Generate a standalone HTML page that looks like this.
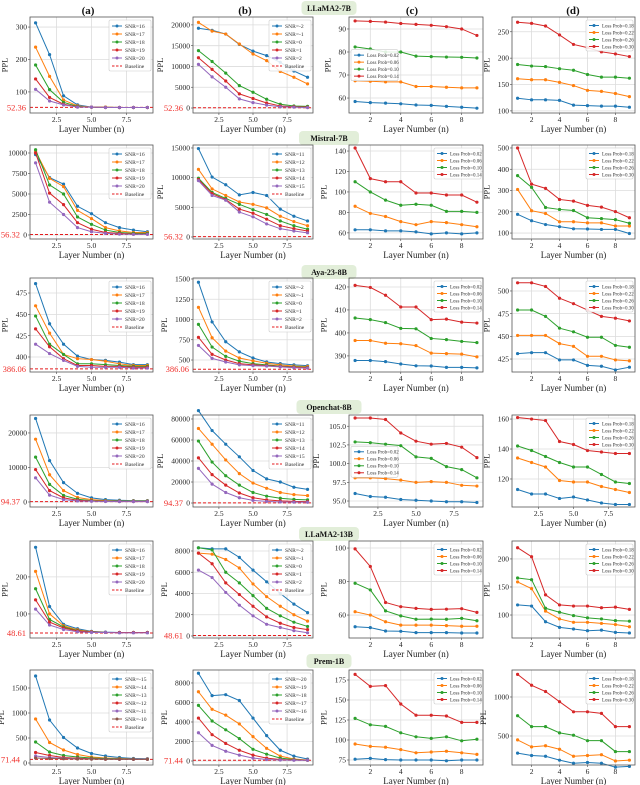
<!DOCTYPE html>
<html><head><meta charset="utf-8">
<style>
html,body{margin:0;padding:0;background:#fff;}
svg{display:block;font-family:"Liberation Serif",serif;}
</style></head>
<body>
<svg id="fig" width="640" height="785" viewBox="0 0 640 785" xmlns="http://www.w3.org/2000/svg"></svg>
<script>
// ===== DATA =====
const layers = [1,2,3,4,5,6,7,8,9];
const snrA1 = ["SNR=16","SNR=17","SNR=18","SNR=19","SNR=20"];
const snrB1 = ["SNR=-2","SNR=-1","SNR=0","SNR=1","SNR=2"];
const snrB2 = ["SNR=11","SNR=12","SNR=13","SNR=14","SNR=15"];
const snrA6 = ["SNR=-15","SNR=-14","SNR=-13","SNR=-12","SNR=-11","SNR=-10"];
const snrB6 = ["SNR=-20","SNR=-19","SNR=-18","SNR=-17","SNR=-16"];
const lossC = ["Loss Prob=0.02","Loss Prob=0.06","Loss Prob=0.10","Loss Prob=0.14"];
const lossD = ["Loss Prob=0.18","Loss Prob=0.22","Loss Prob=0.26","Loss Prob=0.30"];
const baselines = [52.36, 56.32, 386.06, 94.37, 48.61, 71.44];
const baselineText = ["52.36","56.32","386.06","94.37","48.61","71.44"];
const modelNames = ["LLaMA2-7B","Mistral-7B","Aya-23-8B","Openchat-8B","LLaMA2-13B","Prem-1B"];

// Row 1 LLaMA2-7B
const r1a = [[313,215,88,60,53,53,52,52,52],[238,148,75,57,53,53,52,52,52],[183,107,68,55,53,52,52,52,52],[140,83,62,54,53,52,52,52,52],[108,72,60,53,53,52,52,52,52]];
const r1b = [[19200,18700,17800,15300,13700,12600,11000,8900,7400],[20600,18500,17800,15400,13000,11400,8800,7400,5800],[13800,11200,8400,5400,3800,2100,900,500,400],[12100,9300,6500,3400,2300,1200,500,300,200],[10500,7500,5000,2200,1300,700,300,200,100]];
const r1c = [[58.5,58,57.8,57.5,57,56.8,56.4,56,55.6],[67.5,67.3,67,67,65,65,64.7,64.4,64.4],[82.2,81.3,80,80,78.2,78,77.8,77.7,77.4],[93.5,93.3,93,92.4,92,91.6,91,90,87.2]];
const r1d = [[124,121,121,120,111,110,109,109,107],[161,159,159,154,148,139,137,133,127],[188,185,184,180,177,169,164,164,162],[268,266,261,244,226,220,212,208,203]];
// Row 2 Mistral-7B
const r2a = [[9800,7000,6200,3500,2600,1500,900,600,400],[10200,6900,5900,3000,2000,900,500,300,300],[10400,6100,5000,2200,1300,600,300,200,200],[10000,5100,3700,1500,700,300,200,100,100],[8800,4000,2500,900,400,200,100,80,70]];
const r2b = [[14900,10100,8800,7100,7500,7000,4700,3500,2700],[11400,8100,7000,5900,5500,4900,3500,2600,1900],[9900,7500,6500,5500,4600,3800,2700,1900,1300],[9700,7300,6300,4700,4000,3000,1900,1400,1000],[9500,7000,6200,4200,3400,2200,1400,1000,700]];
const r2c = [[63,63,62,62,61,59,60,59,60],[86,79,76,71,68,71,70,68,66],[110,100,92,87,88,87,81,81,80],[143,113,110,110,99,99,97,97,90]];
const r2d = [[188,158,140,130,120,119,117,117,98],[305,205,192,153,153,148,148,133,133],[370,315,220,211,206,172,168,163,146],[500,330,310,258,250,230,222,201,172]];
// Row 3 Aya-23-8B
const r3a = [[486,439,415,401,397,396,394,391,391],[460,428,403,398,397,395,392,390,390],[448,415,403,392,392,391,390,389,389],[433,412,398,390,390,389,389,388,388],[415,404,396,389,388,388,388,387,387]];
const r3b = [[1460,970,725,600,525,475,455,440,430],[1150,775,610,525,490,460,440,425,420],[940,660,545,485,455,440,425,415,410],[780,570,500,455,440,430,420,410,405],[680,520,475,440,430,425,415,405,400]];
const r3c = [[388,388,387.5,386.5,385.7,385.6,385,385,384.8],[396.7,396.7,395.5,395.3,394.5,391.2,391,390.8,389.6],[406.5,405.8,404.5,402,401.8,397.6,397.1,396.3,395.8],[420.7,419.8,416.4,411.3,411.3,405.8,406,404.7,404.3]];
const r3d = [[431,432,432,424,424,418,417,413,416],[451,451,451,442,439,428,428,424,423],[479,479,472,459,455,449,449,440,438],[509,509,505,492,486,479,472,470,467]];
// Row 4 Openchat-8B
const r4a = [[24200,12000,5600,2500,1200,700,500,400,400],[18200,7900,3300,1300,700,400,300,300,300],[13000,5100,1900,800,400,300,200,200,200],[9400,3300,1200,500,300,200,150,150,150],[7000,2000,700,300,200,150,120,110,110]];
const r4b = [[88000,69000,56000,44000,31000,23000,20000,15000,13000],[71000,56000,41000,28000,19000,14000,10000,8000,7000],[59000,39000,26000,17000,10000,6500,4500,3500,3000],[43000,27000,17000,9500,5000,3000,2000,1500,1300],[33000,18000,10000,5000,2500,1500,1000,800,700]];
const r4c = [[96,95.6,95.5,95.2,95.1,95,94.9,94.9,94.8],[98.1,98.1,98,97.8,97.5,97.6,97.5,97.1,97],[102.9,102.8,102.6,102.4,100.9,100.7,99.6,99.2,98.1],[106.1,106.1,105.9,104.1,103,102.6,102.7,102.2,100.8]];
const r4d = [[113,110,110,107,108,106,104,103,103],[134,131,128,119,118,118,115,113,111],[142,139,135,131,128,128,123,118,117],[161,160,159,145,143,139,138,137,137]];
// Row 5 LLaMA2-13B
const r5a = [[280,120,72,60,53,51,50,50,50],[215,100,68,57,52,50,50,50,50],[168,85,65,55,51,50,50,50,50],[138,78,62,54,51,50,50,50,50],[113,70,58,52,50,50,49,49,49]];
const r5b = [[8300,8200,8200,7400,6200,5100,4000,3000,2200],[7800,7700,7200,6400,4900,3700,2800,2000,1400],[8300,8100,6000,5000,3800,2600,1900,1300,900],[7800,6800,5000,3900,2800,1800,1200,800,600],[6200,5500,4100,2900,1900,1100,800,500,300]];
const r5c = [[53,52.5,50.5,50.3,49.5,49.5,49.5,49.3,49.3],[62,60,56,54,54,54,53.7,53.3,53.3],[79,75,62.5,59.5,57.5,57.6,57.5,58,56.6],[99.5,89,67.5,65,64,63.4,63.5,63.8,61.6]];
const r5d = [[118,116,88,78,75,72,73,69,68],[159,147,107,93,87,87,85,83,79],[166,163,112,105,99,95,93,90,89],[220,204,136,118,116,116,113,114,110]];
// Row 6 Prem-1B
const r6a = [[1740,860,510,300,190,140,110,90,85],[880,410,260,170,120,100,90,80,80],[420,220,150,120,100,90,85,80,75],[210,150,110,95,85,80,78,75,75],[140,110,95,85,80,78,75,75,75],[100,90,85,80,78,75,75,75,75]];
const r6b = [[9000,6700,6800,6200,4400,2600,1100,500,200],[7100,5300,4700,3800,2500,1300,500,200,100],[5700,4100,3200,2300,1200,700,300,150,80],[4400,2700,1800,1100,600,300,150,100,80],[2900,1600,1000,600,300,150,100,80,75]];
const r6c = [[76,77,75.5,75,75,75,74,75,75],[95,92,91,88,84,85,86,84,82],[127,119,117,109,104,102,104,99,101],[182,167,168,145,131,131,130,122,122]];
const r6d = [[280,250,240,190,150,160,150,100,110],[450,360,375,330,240,250,260,180,190],[760,620,620,540,510,440,440,300,300],[1290,1150,1070,940,810,810,790,620,620]];

// tick labels
const ytA = [["100","200","300"],["0","2500","5000","7500","10000"],["400","425","450","475"],["0","10000","20000"],["100","200"],["0","500","1000","1500"]];
const ytB = [["0","5000","10000","15000","20000"],["0","5000","10000","15000"],["500","750","1000","1250","1500"],["0","20000","40000","60000","80000"],["0","2000","4000","6000","8000"],["0","2000","4000","6000","8000"]];
const ytC = [["60","70","80","90"],["60","80","100","120","140"],["390","400","410","420"],["95.0","97.5","100.0","102.5","105.0"],["60","80","100"],["75","100","125","150","175"]];
const ytD = [["100","150","200","250"],["100","200","300","400","500"],["425","450","475","500"],["120","140","160"],["100","150","200"],["500","1000"]];
const xtHalf = ["2.5","5.0","7.5"];
const xtInt = ["2","4","6","8"];

// ===== LAYOUT (axis domains / pixel geometry) =====
const colX = {a:[30,153], b:[193,313], c:[349,483], d:[512,635]};
const rowTop = [17,145,278,415,541,670];
const rowBot = [113,239,372,507,638,765];
const titleY = [8,138,272,407,534,661];
const domA = [[35,331],[-490,10975],[382.4,492.6],[-1450,25200],[35,297],[-40,1860]];
const domB = [[-1200,21900],[-340,15500],[352,1512],[-3800,83800],[-190,8940],[-410,9330]];
const domC = [[53.5,95.2],[54,145.9],[383,423.9],[94.2,106.5],[46.3,104.2],[68.75,187.5]];
const domD = [[96,278],[72,514],[410.7,514.3],[101.3,162.7],[59,232],[128,1346]];
const colors = ["#1f77b4","#ff7f0e","#2ca02c","#d62728","#9467bd","#8c564b"];
const NS = "http://www.w3.org/2000/svg";
const svg = document.getElementById("fig");

function el(tag, attrs, parent){
  const e = document.createElementNS(NS, tag);
  for (const k in attrs) e.setAttribute(k, attrs[k]);
  (parent||svg).appendChild(e);
  return e;
}
function txt(s, attrs, parent){ const t = el("text", attrs, parent); t.textContent = s; return t; }

function drawChart(id, col, row, data, labels, yTicks, xTicks, dom, baseline, legendPos){
  const [x0,x1] = colX[col];
  const y0 = rowTop[row], y1 = rowBot[row];
  const g = el("g", {});
  
  
  const xs = v => x0 + (v-0.6)/(9.4-0.6)*(x1-x0);
  const ys = v => y1 - (v-dom[0])/(dom[1]-dom[0])*(y1-y0);
  xTicks.forEach(t => {
    const gx = el("line", {x1:xs(+t),x2:xs(+t),y1:y0,y2:y1,stroke:"#dcdcdc","stroke-width":0.8}, g);
    
    
    const tl = txt(t, {x:xs(+t), y:y1+9, "font-size":7.5, "text-anchor":"middle", fill:"#222"}, g);
    
    
    el("line", {x1:xs(+t),x2:xs(+t),y1:y1,y2:y1+2,stroke:"#444","stroke-width":0.6}, g);
  });
  let maxLen = 0;
  yTicks.forEach(t => {
    const yv = ys(+t);
    const gy = el("line", {x1:x0,x2:x1,y1:yv,y2:yv,stroke:"#dcdcdc","stroke-width":0.8}, g);
    
    
    el("line", {x1:x0-2,x2:x0,y1:yv,y2:yv,stroke:"#444","stroke-width":0.6}, g);
    const tl = txt(t, {x:x0-3, y:yv+2.6, "font-size":7.5, "text-anchor":"end", fill:"#222"}, g);
    
    
    maxLen = Math.max(maxLen, t.length);
  });
  if (baseline !== null){
    const by = ys(baselines[row]);
    const bl = el("line", {x1:x0,x2:x1,y1:by,y2:by,stroke:"#e41a1c","stroke-width":1,"stroke-dasharray":"3,2"}, g);
    
    
    const zeroTick = yTicks[0] === "0" && Math.abs(ys(0)-by) < 8;
    const bt = txt(baselineText[row], {x: zeroTick ? x0-10 : x0-4, y:by+3, "font-size":8.5, "text-anchor":"end", fill:"#f0302c"}, g);
    
    
  }
  data.forEach((s, i) => {
    const pts = s.map((v,j) => xs(layers[j]).toFixed(2)+","+ys(v).toFixed(2)).join(" ");
    const pl = el("polyline", {points:pts, fill:"none", stroke:colors[i], "stroke-width":1}, g);
    
    
    s.forEach((v,j) => {
      const c = el("circle", {cx:xs(layers[j]), cy:ys(v), r:1.6, fill:colors[i]}, g);
      
      
    });
  });
  const fr = el("rect", {x:x0,y:y0,width:x1-x0,height:y1-y0,fill:"none",stroke:"#555","stroke-width":0.8}, g);
  
  
  const xl = txt("Layer Number (n)", {x:(x0+x1)/2, y:y1+19, "font-size":9, "text-anchor":"middle", fill:"#222"}, g);
  
  
  const lx = x0 - 7 - maxLen*3.8 - 4;
  const yl = txt("PPL", {x:lx, y:(y0+y1)/2, "font-size":8.5, "text-anchor":"middle", fill:"#222", transform:`rotate(-90 ${lx} ${(y0+y1)/2})`}, g);
  
  
  const entries = labels.slice();
  const hasBase = baseline !== null;
  if (hasBase) entries.push("Baseline");
  const small = col === "c" || col === "d";
  const eh = small ? 7 : 8;
  const lw = small ? 47 : 42;
  const lh = entries.length*eh + 3;
  let lxp = x1 - lw - 2, lyp = y0 + 3;
  if (legendPos === "ml"){ lxp = x0 + 2; lyp = y0 + (y1-y0)*0.34; }
  const lg = el("g", {}, g);
  
  
  el("rect", {x:lxp, y:lyp, width:lw, height:lh, fill:"#fff", "fill-opacity":0.85, stroke:"#ccc", "stroke-width":0.6, rx:1.5}, lg);
  entries.forEach((name, i) => {
    const cy = lyp + 2 + eh*(i+0.5);
    const isBase = hasBase && i === entries.length-1;
    const col2 = isBase ? "#e41a1c" : colors[i];
    const ent = el("g", {}, lg);
    
    
    el("line", {x1:lxp+3, x2:lxp+13, y1:cy, y2:cy, stroke:col2, "stroke-width":1, "stroke-dasharray": isBase ? "2.5,1.5" : "none"}, ent);
    if (!isBase) el("circle", {cx:lxp+8, cy:cy, r:1.5, fill:col2}, ent);
    txt(name, {x:lxp+16, y:cy+1.8, "font-size": small ? 5 : 5.6, fill:"#333"}, ent);
  });
}

[["(a)",88],["(b)",245],["(c)",412],["(d)",573]].forEach(h => {
  const t = txt(h[0], {x:h[1], y:14, "font-size":11, "font-weight":"bold", "text-anchor":"middle", fill:"#111"});
  
  
});
modelNames.forEach((n, i) => {
  const w = n.length*5 + 10;
  const r = el("rect", {x:329-w/2, y:titleY[i]-7, width:w, height:14, rx:4, fill:"#e2eed9"});
  
  
  const t = txt(n, {x:329, y:titleY[i]+3, "font-size":8, "font-weight":"bold", "text-anchor":"middle", fill:"#111"});
  
  
});

const A = [r1a,r2a,r3a,r4a,r5a,r6a];
const B = [r1b,r2b,r3b,r4b,r5b,r6b];
const C = [r1c,r2c,r3c,r4c,r5c,r6c];
const D = [r1d,r2d,r3d,r4d,r5d,r6d];
for (let r = 0; r < 6; r++){
  drawChart("chart-"+(r+1)+"a", "a", r, A[r], r===5 ? snrA6 : snrA1, ytA[r], xtHalf, domA[r], true, "ur");
  drawChart("chart-"+(r+1)+"b", "b", r, B[r], r===1||r===3 ? snrB2 : (r===5 ? snrB6 : snrB1), ytB[r], xtHalf, domB[r], true, "ur");
  drawChart("chart-"+(r+1)+"c", "c", r, C[r], lossC, ytC[r], r===3 ? xtHalf : xtInt, domC[r], null, (r===0||r===3) ? "ml" : "ur");
  drawChart("chart-"+(r+1)+"d", "d", r, D[r], lossD, ytD[r], r===3 ? xtHalf : xtInt, domD[r], null, "ur");
}
</script>
</body></html>
